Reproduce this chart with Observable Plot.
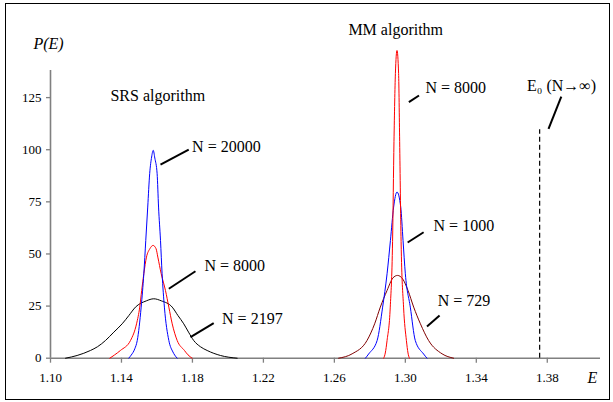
<!DOCTYPE html>
<html>
<head>
<meta charset="utf-8">
<script src="https://cdn.jsdelivr.net/npm/d3@7"></script>
<script src="https://cdn.jsdelivr.net/npm/@observablehq/plot@0.6"></script>
<style>
  body { margin: 0; background: #fff; }
  svg { display: block; }
</style>
</head>
<body>
<div id="chart"></div>
<script>
// ---- tick values ----
const xTicks = [1.10, 1.14, 1.18, 1.22, 1.26, 1.30, 1.34, 1.38];
const yTicks = [0, 25, 50, 75, 100, 125];

// ---- SRS algorithm distributions ----
const srs20000E = [1.1441, 1.1455, 1.1475, 1.1489, 1.1511, 1.1526, 1.1537, 1.1548, 1.1559, 1.1570, 1.1579, 1.1588, 1.1601, 1.1609, 1.1620, 1.1629, 1.1642, 1.1667, 1.1690, 1.1700, 1.1714];
const srs20000P = [0, 1.5, 4.5, 8.5, 24.5, 40.5, 56.5, 72.5, 88.5, 96.5, 99.7, 96, 88.5, 72.5, 56.5, 40.5, 24.5, 8.5, 3, 1.5, 0];

const srs8000E = [1.1334, 1.1360, 1.1394, 1.1451, 1.1485, 1.1503, 1.1514, 1.1526, 1.1541, 1.1560, 1.1578, 1.1595, 1.1605, 1.1624, 1.1648, 1.1667, 1.1686, 1.1714, 1.1755, 1.1775, 1.1798];
const srs8000P = [0, 1.5, 3.7, 8.5, 16.5, 24.5, 32.5, 40.5, 48.5, 52.5, 54.1, 52.5, 48.5, 40.5, 32.5, 24.5, 16.5, 8.5, 3.7, 1.6, 0];

const srs2197E = [1.1085, 1.1150, 1.1225, 1.1265, 1.1310, 1.1357, 1.1404, 1.1442, 1.1479, 1.1540, 1.1582, 1.1625, 1.1686, 1.1718, 1.1751, 1.1778, 1.1807, 1.1845, 1.1883, 1.1958, 1.2052];
const srs2197P = [0, 1.3, 3.7, 5.5, 8.5, 12.5, 16.5, 20.5, 24.5, 27.5, 28.5, 27.5, 24.5, 20.5, 16.5, 12.5, 8.5, 5.5, 3.7, 1.3, 0];

// ---- MM algorithm distributions ----
const mm8000E = [1.2878, 1.2887, 1.2897, 1.2915, 1.2928, 1.2936, 1.2944, 1.2953, 1.2962, 1.2968, 1.2976, 1.2990, 1.3006, 1.3015, 1.3023];
const mm8000P = [0, 2.5, 8.5, 24.5, 56, 104, 136.6, 147.6, 136.6, 104, 56, 24.5, 8.5, 2.5, 0];

const mm1000E = [1.2775, 1.2793, 1.2841, 1.2872, 1.2897, 1.2916, 1.2934, 1.2953, 1.2974, 1.2987, 1.3000, 1.3028, 1.3056, 1.3103, 1.3122];
const mm1000P = [0, 2, 8.5, 24.5, 40.5, 56.5, 72.5, 79.7, 72.5, 56.5, 40.5, 24.5, 8.5, 2, 0];

const mm729E = [1.2624, 1.2700, 1.2784, 1.2827, 1.2859, 1.2897, 1.2930, 1.2956, 1.2985, 1.3015, 1.3047, 1.3085, 1.3131, 1.3207, 1.3272];
const mm729P = [0, 2.1, 8.5, 16.5, 24.5, 32.5, 38.5, 39.7, 38, 32.5, 24.5, 16.5, 8.5, 2.1, 0];

// ---- exact limit ----
const E0 = 1.3757;
const E0Top = 109.6;

// ---- annotation labels (anchored in data units) ----
const labelText = ["SRS algorithm", "MM algorithm", "N = 20000", "N = 8000", "N = 2197", "N = 8000", "N = 1000", "N = 729", "E\u2080 (N\u2192\u221E)"];
const labelE    = [1.1338, 1.2679, 1.1798, 1.1868, 1.1967, 1.3113, 1.3159, 1.3182, 1.3686];
const labelP    = [126.0, 157.7, 101.5, 44.5, 18.9, 129.8, 63.4, 27.7, 130.8];

// ---- leader lines ----
const leadE1 = [1.1620, 1.1667, 1.1789, 1.3020, 1.3013, 1.3122, 1.3807];
const leadP1 = [92.8, 33.3, 10.1, 122.8, 55.5, 15.2, 110.0];
const leadE2 = [1.1779, 1.1817, 1.1920, 1.3077, 1.3103, 1.3193, 1.3879];
const leadP2 = [100.0, 41.7, 16.8, 126.0, 60.4, 20.5, 125.5];

// ---- assemble tables ----
const seriesList = [
  {E: srs2197E, P: srs2197P},
  {E: srs8000E, P: srs8000P},
  {E: srs20000E, P: srs20000P},
  {E: mm729E, P: mm729P},
  {E: mm1000E, P: mm1000P},
  {E: mm8000E, P: mm8000P}
];
const seriesColors = ["#000000", "#ff0000", "#0000ff", "#800000", "#0000ff", "#ff0000"];

const rows = seriesList.flatMap((s, i) => s.E.map((e, j) => ({E: e, P: s.P[j], id: i})));
const labels = labelText.map((t, i) => ({text: t, E: labelE[i], P: labelP[i]}));
const leaders = leadE1.map((e, i) => ({E1: e, P1: leadP1[i], E2: leadE2[i], P2: leadP2[i]}));

const serif = "'Liberation Serif', 'Times New Roman', serif";

const chart = Plot.plot({
  width: 613,
  height: 402,
  marginLeft: 50,
  marginRight: 13,
  marginTop: 70,
  marginBottom: 44.3,
  style: {fontFamily: serif, fontSize: "13px", color: "black", background: "white"},
  x: {domain: [1.10, 1.41]},
  y: {domain: [0, 138]},
  marks: [
    Plot.axisX({ticks: xTicks, tickFormat: d3.format(".2f"), tickSize: 5, tickPadding: 10, stroke: "#808080", strokeWidth: 1.3, label: null, fontSize: 13, fontFamily: serif, fontVariant: "normal"}),
    Plot.axisY({ticks: yTicks, tickSize: 4, tickPadding: 5, stroke: "#808080", strokeWidth: 1.3, label: null, fontSize: 13, fontFamily: serif, fontVariant: "normal"}),
    Plot.ruleX([1.10], {y1: 0, y2: 138, stroke: "#808080", strokeWidth: 1.6}),
    Plot.ruleY([0], {x1: 1.10, x2: 1.41, stroke: "#808080", strokeWidth: 1.6}),
    Plot.line(rows, {x: "E", y: "P", z: "id", stroke: d => seriesColors[d.id], strokeWidth: 1, curve: "monotone-x"}),
    Plot.ruleX([E0], {y1: 0, y2: E0Top, stroke: "black", strokeWidth: 1.2, strokeDasharray: "5,3"}),
    Plot.link(leaders, {x1: "E1", y1: "P1", x2: "E2", y2: "P2", stroke: "black", strokeWidth: 2}),
    Plot.text(labels, {x: "E", y: "P", text: "text", textAnchor: "start", fontSize: 16, fontFamily: serif, fill: "black"}),
    Plot.text(["P(E)"], {x: 1.0904, y: 151.0, textAnchor: "start", fontSize: 16, fontFamily: serif, fontStyle: "italic", fill: "black"}),
    Plot.text(["E"], {x: 1.4054, y: -9.3, textAnchor: "middle", fontSize: 16, fontFamily: serif, fontStyle: "italic", fill: "black"})
  ]
});

// outer border of the figure
d3.select(chart).append("rect")
  .attr("x", 5.5).attr("y", 3.5).attr("width", 604).attr("height", 396)
  .attr("fill", "none").attr("stroke", "black").attr("stroke-width", 1);

document.getElementById("chart").appendChild(chart);
</script>
</body>
</html>
